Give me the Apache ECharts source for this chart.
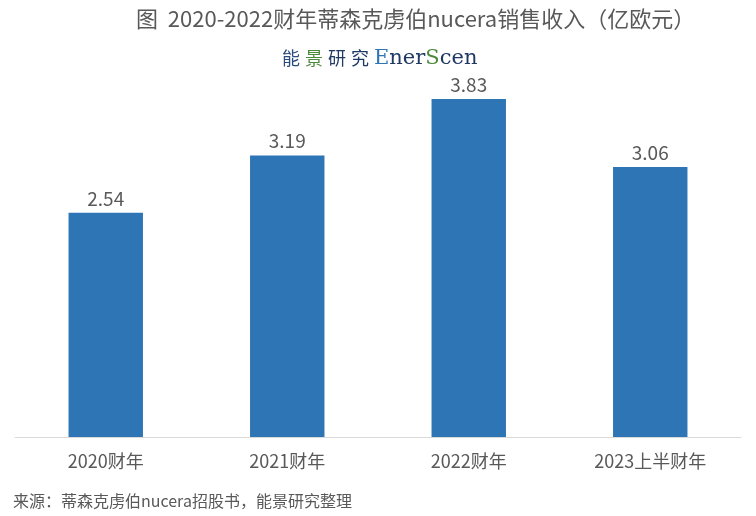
<!DOCTYPE html>
<html>
<head>
<meta charset="utf-8">
<script src="https://cdn.jsdelivr.net/npm/echarts@6/dist/echarts.min.js"></script>
<style>
  html, body { margin: 0; padding: 0; background: #fff; }
  #main { width: 756px; height: 516px; }
</style>
</head>
<body>
<div id="main"></div>
<script>
const categories = ['2020财年', '2021财年', '2022财年', '2023上半财年'];
const revenue = [2.54, 3.19, 3.83, 3.06];

const titleText = '图  2020-2022财年蒂森克虏伯nucera销售收入（亿欧元）';
const sourceText = '来源：蒂森克虏伯nucera招股书，能景研究整理';

const textColor = '#595959';
const barColor = '#2E75B6';
const cjk = '"Noto Sans CJK SC", "Noto Sans", sans-serif';
const serif = '"DejaVu Serif", "Liberation Serif", serif';

const chart = echarts.init(document.getElementById('main'), null, { renderer: 'canvas' });

// logo pieces: CJK glyphs spaced out, latin in a wide serif
const logoCjk = (color) => ({
  fontFamily: cjk, fontSize: 18, fontWeight: 'normal', color: color, padding: [0, 5, 0, 0]
});
const logoLatin = (color) => ({
  fontFamily: serif, fontSize: 21, fontWeight: 'normal', color: color
});

const option = {
  backgroundColor: '#fff',
  animation: false,
  title: [
    {
      text: titleText,
      left: 131,
      top: 3,
      textStyle: { fontFamily: cjk, fontSize: 22, fontWeight: 'normal', color: textColor }
    },
    {
      text: '{a|能}{b|景}{c|研}{c|究}{d|E}{f|ner}{e|S}{f|cen}',
      left: 277,
      top: 43,
      textStyle: {
        fontWeight: 'normal',
        rich: {
          a: logoCjk('#2b4c7e'),
          b: logoCjk('#4e8a3e'),
          c: logoCjk('#1f3864'),
          d: logoLatin('#2E75B6'),
          e: logoLatin('#4e8a3e'),
          f: logoLatin('#1f3864')
        }
      }
    },
    {
      text: sourceText,
      left: 8,
      top: 488,
      textStyle: { fontFamily: cjk, fontSize: 16, fontWeight: 'normal', color: textColor }
    }
  ],
  grid: { left: 15, right: 15, top: 84, bottom: 79 },
  xAxis: {
    type: 'category',
    data: categories,
    axisLine: { lineStyle: { color: '#d9d9d9', width: 1 } },
    axisTick: { show: false },
    axisLabel: { fontFamily: cjk, fontSize: 18, color: textColor, margin: 15 }
  },
  yAxis: {
    type: 'value',
    min: 0,
    max: 4,
    show: false
  },
  series: [
    {
      type: 'bar',
      data: revenue,
      barWidth: '41%',
      itemStyle: { color: barColor },
      label: {
        show: true,
        position: 'top',
        distance: 5,
        fontFamily: cjk,
        fontSize: 19,
        color: textColor,
        formatter: p => p.value.toFixed(2)
      }
    }
  ]
};

chart.setOption(option);
</script>
</body>
</html>
